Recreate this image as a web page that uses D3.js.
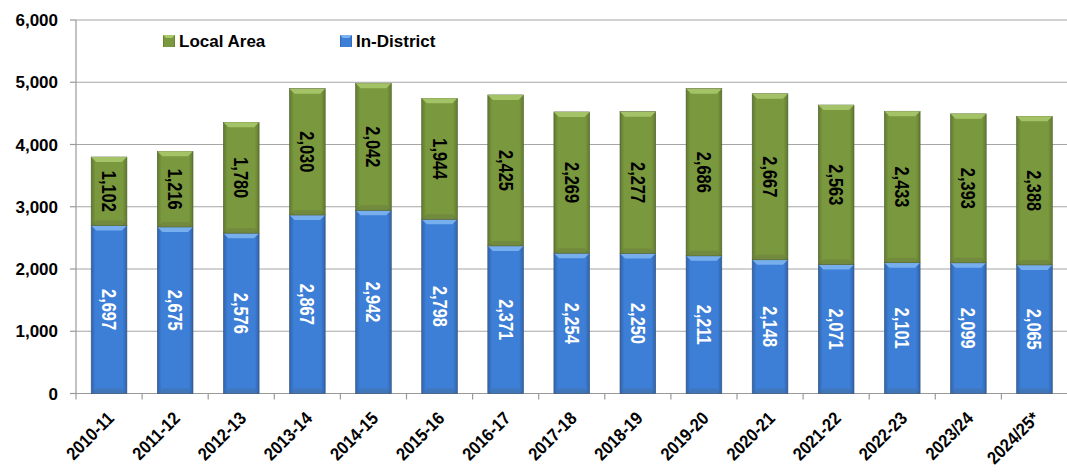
<!DOCTYPE html>
<html>
<head>
<meta charset="utf-8">
<script src="https://cdn.jsdelivr.net/npm/d3@7"></script>
<style>
  body { margin: 0; background: #fff; }
  svg { display: block; }
  .tick-y { font-family: "Liberation Sans", Arial, sans-serif; font-weight: bold; font-size: 17px; }
  .tick-x { font-family: "Liberation Sans", Arial, sans-serif; font-weight: bold; font-size: 18px; }
  .legend-text { font-family: "Liberation Sans", Arial, sans-serif; font-weight: bold; font-size: 17px; }
  .bar-label { font-family: "Liberation Sans", Arial, sans-serif; font-weight: bold; font-size: 20px; }
</style>
</head>
<body>
<div id="chart"></div>
<script>
// data
const years = ["2010-11","2011-12","2012-13","2013-14","2014-15","2015-16","2016-17","2017-18",
    "2018-19","2019-20","2020-21","2021-22","2022-23","2023/24","2024/25*"];
const inDistrict = [2697,2675,2576,2867,2942,2798,2371,2254,2250,2211,2148,2071,2101,2099,2065];
const localArea = [1102,1216,1780,2030,2042,1944,2425,2269,2277,2686,2667,2563,2433,2393,2388];
const yTicks = [0,1000,2000,3000,4000,5000,6000];

const width = 1067, height = 472;
const margin = {top: 20, right: 0, bottom: 78.5, left: 76};

const svg = d3.select("#chart").append("svg")
    .attr("width", width)
    .attr("height", height);

const x = d3.scaleBand()
    .domain(years)
    .range([margin.left, width - margin.right + 0.5])
    .paddingInner(0.46)
    .paddingOuter(0.23);

const y = d3.scaleLinear()
    .domain([0, 6000])
    .range([height - margin.bottom, margin.top]);

const x0 = margin.left, x1 = width;
const gap = (x.step() - x.bandwidth()) / 2;

// gradients for the bevelled bars
const defs = svg.append("defs");
function sideGrad(id, edge, mid) {
    const g = defs.append("linearGradient").attr("id", id)
        .attr("x1", "0%").attr("x2", "100%").attr("y1", "0%").attr("y2", "0%");
    g.append("stop").attr("offset", "0%").attr("stop-color", edge);
    g.append("stop").attr("offset", "12%").attr("stop-color", mid);
    g.append("stop").attr("offset", "88%").attr("stop-color", mid);
    g.append("stop").attr("offset", "100%").attr("stop-color", edge);
}
sideGrad("gBlue", "#2f63ad", "#3d7ed6");
sideGrad("gGreen", "#5f7a2e", "#7a983e");

// gridlines
svg.append("g").selectAll("line")
    .data(yTicks.filter(d => d > 0))
    .enter().append("line")
    .attr("x1", x0).attr("x2", x1)
    .attr("y1", d => y(d)).attr("y2", d => y(d))
    .attr("stroke", "#a6a6a6").attr("stroke-width", 1.2);

// y axis
const yAxis = svg.append("g");
yAxis.append("line")
    .attr("x1", x0).attr("x2", x0)
    .attr("y1", y(6000)).attr("y2", y(0))
    .attr("stroke", "#9a9a9a").attr("stroke-width", 1.2);
yAxis.selectAll(".tk").data(yTicks).enter().append("line")
    .attr("x1", x0 - 6).attr("x2", x0)
    .attr("y1", d => y(d)).attr("y2", d => y(d))
    .attr("stroke", "#9a9a9a").attr("stroke-width", 1.2);
yAxis.selectAll("text").data(yTicks).enter().append("text")
    .attr("class", "tick-y")
    .attr("x", x0 - 18)
    .attr("y", d => y(d))
    .attr("dy", "0.36em")
    .attr("text-anchor", "end")
    .text(d => d3.format(",")(d));

// x axis
const xAxis = svg.append("g");
xAxis.append("line")
    .attr("x1", x0).attr("x2", x1)
    .attr("y1", y(0)).attr("y2", y(0))
    .attr("stroke", "#9a9a9a").attr("stroke-width", 1.2);
xAxis.selectAll(".tk").data(years).enter().append("line")
    .attr("x1", d => x(d) - gap)
    .attr("x2", d => x(d) - gap)
    .attr("y1", y(0)).attr("y2", y(0) + 6)
    .attr("stroke", "#9a9a9a").attr("stroke-width", 1.2);
xAxis.selectAll("text").data(years).enter().append("text")
    .attr("class", "tick-x")
    .attr("text-anchor", "end")
    .attr("transform", d => "translate(" + (x(d) + x.bandwidth() / 2 + 6) + "," + (y(0) + 26) + ") rotate(-45) scale(0.9,1)")
    .text(d => d);

// stacked segments
function drawSegments(vals, base, fill, topColor, labelColor) {
    const g = svg.append("g");
    years.forEach((yr, i) => {
        const b = base ? base[i] : 0;
        const top = y(b + vals[i]), bot = y(b);
        const bx = x(yr), bw = x.bandwidth();
        const bv = 5;
        g.append("rect")
            .attr("x", bx).attr("y", top)
            .attr("width", bw).attr("height", bot - top)
            .attr("fill", "url(#" + fill + ")")
            .attr("stroke", d3.color(topColor).darker(2.2))
            .attr("stroke-width", 0.6);
        // top bevel
        g.append("path")
            .attr("d", "M" + bx + "," + top + "L" + (bx + bw) + "," + top +
                "L" + (bx + bw - bv) + "," + (top + bv) + "L" + (bx + bv) + "," + (top + bv) + "Z")
            .attr("fill", topColor).attr("opacity", 0.9);
        // bottom bevel
        g.append("path")
            .attr("d", "M" + bx + "," + bot + "L" + (bx + bw) + "," + bot +
                "L" + (bx + bw - bv) + "," + (bot - bv) + "L" + (bx + bv) + "," + (bot - bv) + "Z")
            .attr("fill", d3.color(topColor).darker(1.6)).attr("opacity", 0.35);
        const cy = (top + bot) / 2;
        // narrow bold label, rotated to read top-down
        g.append("text")
            .attr("class", "bar-label")
            .attr("transform", "translate(" + (bx + bw / 2) + "," + cy + ") rotate(90) scale(0.82,1)")
            .attr("text-anchor", "middle")
            .attr("dy", "0.35em")
            .attr("fill", labelColor)
            .text(d3.format(",")(vals[i]));
    });
}
drawSegments(inDistrict, null, "gBlue", "#7db4f0", "#ffffff");
drawSegments(localArea, inDistrict, "gGreen", "#a9c86a", "#000000");

// legend
const legend = [
    {name: "Local Area", fill: "gGreen", top: "#a9c86a", x: 163},
    {name: "In-District", fill: "gBlue", top: "#7db4f0", x: 340}
];
const lg = svg.append("g");
legend.forEach(l => {
    lg.append("rect")
        .attr("x", l.x).attr("y", 35)
        .attr("width", 12).attr("height", 12)
        .attr("fill", "url(#" + l.fill + ")");
    lg.append("path")
        .attr("d", "M" + l.x + ",35L" + (l.x + 12) + ",35L" + (l.x + 9) + ",38L" + (l.x + 3) + ",38Z")
        .attr("fill", l.top);
    lg.append("text")
        .attr("class", "legend-text")
        .attr("x", l.x + 16).attr("y", 41)
        .attr("dy", "0.36em")
        .text(l.name);
});
</script>
</body>
</html>
